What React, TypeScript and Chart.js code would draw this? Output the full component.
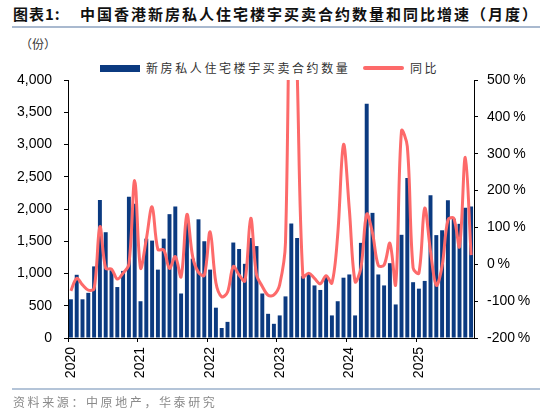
import React, { useEffect, useRef } from "react";
import { Chart, registerables } from "chart.js";

Chart.register(...registerables);

// ---------- data ----------
const years = ["2020", "2021", "2022", "2023", "2024", "2025"];
const monthNums = ["01", "02", "03", "04", "05", "06", "07", "08", "09", "10", "11", "12"];

const contracts2020 = [600, 980, 600, 700, 1110, 2140, 1640, 1050, 790, 1040, 2190, 2080];
const contracts2021 = [570, 1540, 1510, 1060, 1540, 1920, 2040, 690, 1800, 1230, 1840, 1500];
const contracts2022 = [1060, 470, 155, 250, 1480, 1380, 1150, 1550, 1425, 690, 375, 220];
const contracts2023 = [350, 645, 1775, 1550, 960, 1000, 815, 745, 950, 350, 570, 935];
const contracts2024 = [985, 350, 1475, 3630, 1940, 985, 815, 1160, 520, 1600, 2480, 865];
const contracts2025 = [765, 885, 2215, 1595, 1670, 2135, 1850, 1770, 2020, 2040];

const yoy2020 = [-72, -38, -56, -70, -66, 102, -11, -13, -40, -24, 0, 227];
const yoy2021 = [-10, 68, 156, 40, 39, -11, 21, -34, 135, 20, -22, -30];
const yoy2022 = [88, -50, -88, -76, -6, -29, -45, 125, -28, -60, -84, -83];
const yoy2023 = [-55, 60, 1050, 530, -34, -24, -38, -53, -31, -51, 80, 325];
const yoy2024 = [150, -47, -10, 136, 85, -3, -2, 57, -55, 362, 320, -10];
const yoy2025 = [-24, 152, 35, -57, -5, 120, 125, 48, 290, 25];

const leftTicks = { min: 0, max: 4000, step: 500 };
const rightTicks = { min: -200, max: 500, step: 100 };

const contracts = [
  ...contracts2020,
  ...contracts2021,
  ...contracts2022,
  ...contracts2023,
  ...contracts2024,
  ...contracts2025,
];
const yoy = [...yoy2020, ...yoy2021, ...yoy2022, ...yoy2023, ...yoy2024, ...yoy2025];
const categories: string[] = [];
years.forEach((y) => monthNums.forEach((m) => categories.push(`${y}-${m}`)));
categories.length = contracts.length;

const BAR_COLOR = "#0b3a80";
const LINE_COLOR = "#fd6a6a";
const AXIS_FONT = "'Liberation Sans', Arial, sans-serif";
const CJK_FONT = "'Noto Sans CJK SC', 'Noto Sans', sans-serif";

export default function App() {
  const canvasRef = useRef<HTMLCanvasElement | null>(null);

  useEffect(() => {
    if (!canvasRef.current) return;
    const chart = new Chart(canvasRef.current, {
      type: "bar",
      data: {
        labels: categories,
        datasets: [
          {
            type: "line",
            label: "同比",
            data: yoy,
            borderColor: LINE_COLOR,
            backgroundColor: LINE_COLOR,
            borderWidth: 3,
            pointRadius: 0,
            tension: 0.35,
            yAxisID: "y1",
            order: 1,
          } as any,
          {
            type: "bar",
            label: "新房私人住宅楼宇买卖合约数量",
            data: contracts,
            backgroundColor: BAR_COLOR,
            barPercentage: 0.68,
            categoryPercentage: 1.0,
            yAxisID: "y",
            order: 2,
          } as any,
        ],
      },
      options: {
        animation: false,
        responsive: true,
        maintainAspectRatio: false,
        layout: { padding: { top: 80, left: 0, right: 0, bottom: 34 } },
        plugins: {
          legend: { display: false },
          tooltip: { enabled: false },
          title: { display: false },
        },
        scales: {
          x: {
            offset: true,
            grid: {
              offset: true,
              drawOnChartArea: false,
              drawTicks: true,
              tickLength: 4,
              tickColor: (ctx: any) => (ctx.index % 12 === 0 ? "#000" : "rgba(0,0,0,0)"),
            },
            border: { display: true, color: "#000", width: 1 },
            ticks: {
              autoSkip: false,
              maxRotation: 90,
              minRotation: 90,
              padding: 5,
              color: "#000",
              font: { family: AXIS_FONT, size: 14 },
              callback: (_v: any, idx: number) =>
                idx % 12 === 0 ? categories[idx].slice(0, 4) : "",
            },
            afterFit: (scale: any) => {
              scale.height = 44;
            },
          },
          y: {
            position: "left",
            min: leftTicks.min,
            max: leftTicks.max,
            grid: { drawOnChartArea: false, drawTicks: true, tickLength: 4, tickColor: "#000" },
            border: { display: true, color: "#000", width: 1 },
            ticks: {
              stepSize: leftTicks.step,
              padding: 12,
              color: "#000",
              font: { family: AXIS_FONT, size: 14 },
              callback: (v: any) => Number(v).toLocaleString("en-US"),
            },
            afterFit: (scale: any) => {
              scale.width = 68;
            },
          },
          y1: {
            position: "right",
            min: rightTicks.min,
            max: rightTicks.max,
            grid: { drawOnChartArea: false, drawTicks: true, tickLength: 4, tickColor: "#000" },
            border: { display: true, color: "#000", width: 1 },
            ticks: {
              stepSize: rightTicks.step,
              padding: 9,
              color: "#000",
              font: { family: AXIS_FONT, size: 14 },
              callback: (v: any) => `${v}\u2009%`,
            },
            afterFit: (scale: any) => {
              scale.width = 76;
            },
          },
        },
      } as any,
    });
    return () => chart.destroy();
  }, []);

  return (
    <div
      style={{
        position: "absolute",
        left: 0,
        top: 0,
        width: 550,
        height: 416,
        background: "#fff",
        overflow: "hidden",
      }}
    >
      {/* title */}
      <div
        style={{
          position: "absolute",
          left: 13,
          top: 4,
          fontFamily: CJK_FONT,
          fontWeight: 700,
          fontSize: 15,
          lineHeight: "20px",
          color: "#111",
          whiteSpace: "nowrap",
        }}
      >
        <span style={{ letterSpacing: 1 }}>图表1:</span>
      </div>
      <div
        style={{
          position: "absolute",
          left: 80,
          top: 4,
          fontFamily: CJK_FONT,
          fontWeight: 700,
          fontSize: 15,
          lineHeight: "20px",
          letterSpacing: 2,
          color: "#111",
          whiteSpace: "nowrap",
        }}
      >
        中国香港新房私人住宅楼宇买卖合约数量和同比增速（月度）
      </div>
      <div
        style={{
          position: "absolute",
          left: 12,
          top: 26,
          width: 528,
          height: 2,
          background: "#a9b9cf",
        }}
      />
      {/* unit */}
      <div
        style={{
          position: "absolute",
          left: 20,
          top: 36,
          fontFamily: CJK_FONT,
          fontSize: 12,
          lineHeight: "16px",
          color: "#333",
          whiteSpace: "nowrap",
        }}
      >
        （份）
      </div>
      {/* legend */}
      <div
        style={{
          position: "absolute",
          left: 100,
          top: 65,
          width: 40,
          height: 7,
          background: BAR_COLOR,
        }}
      />
      <div
        style={{
          position: "absolute",
          left: 146,
          top: 60,
          fontFamily: CJK_FONT,
          fontSize: 12,
          lineHeight: "16px",
          letterSpacing: 2.6,
          color: "#333",
          whiteSpace: "nowrap",
        }}
      >
        新房私人住宅楼宇买卖合约数量
      </div>
      <div
        style={{
          position: "absolute",
          left: 363,
          top: 66,
          width: 41,
          height: 4,
          borderRadius: 2,
          background: LINE_COLOR,
        }}
      />
      <div
        style={{
          position: "absolute",
          left: 410,
          top: 60,
          fontFamily: CJK_FONT,
          fontSize: 12,
          lineHeight: "16px",
          letterSpacing: 2.6,
          color: "#333",
          whiteSpace: "nowrap",
        }}
      >
        同比
      </div>
      {/* chart */}
      <div style={{ position: "absolute", left: 0, top: 0, width: 550, height: 416 }}>
        <canvas ref={canvasRef} />
      </div>
      {/* source */}
      <div
        style={{
          position: "absolute",
          left: 12,
          top: 388,
          width: 528,
          height: 2,
          background: "#b4c4d8",
        }}
      />
      <div
        style={{
          position: "absolute",
          left: 13,
          top: 394,
          fontFamily: CJK_FONT,
          fontSize: 12,
          lineHeight: "16px",
          letterSpacing: 2.6,
          color: "#8a8a8a",
          whiteSpace: "nowrap",
        }}
      >
        资料来源：中原地产，华泰研究
      </div>
    </div>
  );
}
